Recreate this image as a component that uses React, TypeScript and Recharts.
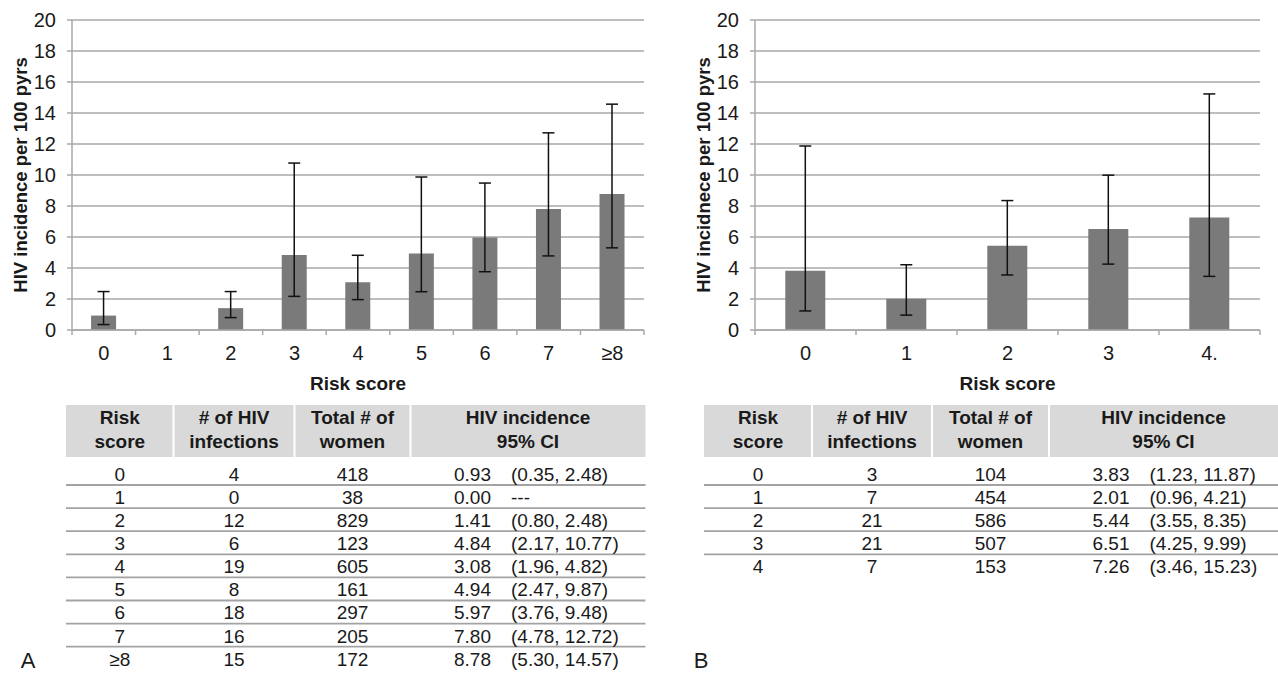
import React from 'react';
import { BarChart, Bar, XAxis, YAxis, CartesianGrid, ErrorBar } from 'recharts';

// ---------- Data ----------
const riskA = ['0', '1', '2', '3', '4', '5', '6', '7', '≥8'];
const incidenceA = [0.93, 0.0, 1.41, 4.84, 3.08, 4.94, 5.97, 7.8, 8.78];
const lowA: (number | null)[] = [0.35, null, 0.8, 2.17, 1.96, 2.47, 3.76, 4.78, 5.3];
const highA: (number | null)[] = [2.48, null, 2.48, 10.77, 4.82, 9.87, 9.48, 12.72, 14.57];
const infectionsA = [4, 0, 12, 6, 19, 8, 18, 16, 15];
const womenA = [418, 38, 829, 123, 605, 161, 297, 205, 172];

const axisCatsB = ['0', '1', '2', '3', '4.'];
const riskB = ['0', '1', '2', '3', '4'];
const incidenceB = [3.83, 2.01, 5.44, 6.51, 7.26];
const lowB = [1.23, 0.96, 3.55, 4.25, 3.46];
const highB = [11.87, 4.21, 8.35, 9.99, 15.23];
const infectionsB = [3, 7, 21, 21, 7];
const womenB = [104, 454, 586, 507, 153];

const yTicks = [0, 2, 4, 6, 8, 10, 12, 14, 16, 18, 20];
const headerLines = [
  ['Risk', 'score'],
  ['# of HIV', 'infections'],
  ['Total # of', 'women'],
  ['HIV incidence', '95% CI'],
];

// ---------- Styles ----------
const FONT = '"Liberation Sans", Arial, sans-serif';
const TEXT = '#1a1a1a';
const GRID = '#a9a9a9';
const BAR = '#7a7a7a';

const buildRows = (cats: string[], inc: number[], lo: (number | null)[], hi: (number | null)[]) =>
  cats.map((c, i) => ({
    cat: c,
    value: inc[i],
    err: lo[i] == null || hi[i] == null ? null : [inc[i] - (lo[i] as number), (hi[i] as number) - inc[i]],
  }));

const dataA = buildRows(riskA, incidenceA, lowA, highA);
const dataB = buildRows(axisCatsB, incidenceB, lowB, highB);

const makeTick = (count: number) => (props: any) => {
  const { x, y, payload, index } = props;
  const half = payload && payload.offset ? payload.offset : 0;
  return (
    <g>
      <line x1={x - half} x2={x - half} y1={y} y2={y + 5} stroke={GRID} strokeWidth={1.5} />
      {index === count - 1 && (
        <line x1={x + half} x2={x + half} y1={y} y2={y + 5} stroke={GRID} strokeWidth={1.5} />
      )}
      <text x={x} y={y + 30} textAnchor="middle" fontSize={20} fontFamily={FONT} fill={TEXT}>
        {payload.value}
      </text>
    </g>
  );
};

const makeYTitle = (text: string, dx: number) => (props: any) => {
  const vb = props.viewBox || { x: 0, y: 0, width: 0, height: 0 };
  const cx = vb.x + dx;
  const cy = vb.y + vb.height / 2;
  return (
    <text
      x={cx}
      y={cy}
      transform={`rotate(-90, ${cx}, ${cy})`}
      textAnchor="middle"
      fontSize={18.5}
      fontWeight="bold"
      fontFamily={FONT}
      fill={TEXT}
    >
      {text}
    </text>
  );
};

const xTitle = (props: any) => {
  const vb = props.viewBox || { x: 0, y: 0, width: 0, height: 0 };
  return (
    <text
      x={vb.x + vb.width / 2}
      y={vb.y + 59.5}
      textAnchor="middle"
      fontSize={19}
      fontWeight="bold"
      fontFamily={FONT}
      fill={TEXT}
    >
      Risk score
    </text>
  );
};

function Panel({
  data,
  count,
  width,
  yAxisWidth,
  rightMargin,
  yTitle,
  yTitleDx,
}: {
  data: any[];
  count: number;
  width: number;
  yAxisWidth: number;
  rightMargin: number;
  yTitle: string;
  yTitleDx: number;
}) {
  return (
    <BarChart
      width={width}
      height={400}
      data={data}
      margin={{ top: 20, right: rightMargin, bottom: 0, left: 0 }}
      barCategoryGap="30%"
    >
      <CartesianGrid vertical={false} stroke={GRID} strokeWidth={1.5} />
      <XAxis
        dataKey="cat"
        height={70}
        axisLine={{ stroke: GRID, strokeWidth: 1.5 }}
        tickLine={false}
        tickSize={0}
        tickMargin={0}
        interval={0}
        tick={makeTick(count)}
        label={xTitle}
      />
      <YAxis
        width={yAxisWidth}
        domain={[0, 20]}
        ticks={yTicks}
        interval={0}
        axisLine={{ stroke: GRID, strokeWidth: 1.5 }}
        tickLine={{ stroke: GRID, strokeWidth: 1.5 }}
        tickSize={5}
        tickMargin={11}
        tick={{ fontSize: 20, fontFamily: FONT, fill: TEXT }}
        label={makeYTitle(yTitle, yTitleDx)}
      />
      <Bar dataKey="value" fill={BAR} isAnimationActive={false}>
        <ErrorBar dataKey="err" direction="y" width={6} stroke="#111" strokeWidth={1.5} />
      </Bar>
    </BarChart>
  );
}

function DataTable({
  edges,
  risk,
  infections,
  women,
  inc,
  lo,
  hi,
}: {
  edges: number[];
  risk: string[];
  infections: number[];
  women: number[];
  inc: number[];
  lo: (number | null)[];
  hi: (number | null)[];
}) {
  const headTop = 405;
  const headBottom = 457;
  const firstLine = 485;
  const step = 23.1;
  const centers = edges.slice(0, -1).map((e, i) => (e + edges[i + 1]) / 2);
  const lastLeft = edges[3];
  return (
    <g fontFamily={FONT} fill={TEXT}>
      {edges.slice(0, -1).map((e, i) => (
        <rect
          key={'h' + i}
          x={e + (i === 0 ? 0 : 1)}
          y={headTop}
          width={edges[i + 1] - e - (i === 0 ? 1 : 2) + (i === edges.length - 2 ? 1 : 0)}
          height={headBottom - headTop}
          fill="#d9d9d9"
        />
      ))}
      {headerLines.map((ls, i) => (
        <g key={'ht' + i}>
          <text x={centers[i]} y={423.5} textAnchor="middle" fontSize={19} fontWeight="bold">
            {ls[0]}
          </text>
          <text x={centers[i]} y={447.5} textAnchor="middle" fontSize={19} fontWeight="bold">
            {ls[1]}
          </text>
        </g>
      ))}
      {risk.map((r, i) => {
        const lineY = firstLine + i * step;
        const base = lineY - 4.2;
        const ci = lo[i] == null || hi[i] == null ? '---' : `(${(lo[i] as number).toFixed(2)}, ${(hi[i] as number).toFixed(2)})`;
        return (
          <g key={'r' + i}>
            {i < risk.length - 1 && (
              <line x1={edges[0]} x2={edges[edges.length - 1]} y1={lineY} y2={lineY} stroke="#a3a3a3" strokeWidth={1.8} />
            )}
            <text x={centers[0]} y={base} textAnchor="middle" fontSize={19}>
              {r}
            </text>
            <text x={centers[1]} y={base} textAnchor="middle" fontSize={19}>
              {infections[i]}
            </text>
            <text x={centers[2]} y={base} textAnchor="middle" fontSize={19}>
              {women[i]}
            </text>
            <text x={lastLeft + 43.5} y={base} fontSize={19}>
              {inc[i].toFixed(2)}
            </text>
            <text x={lastLeft + 100.5} y={base} fontSize={19}>
              {ci}
            </text>
          </g>
        );
      })}
    </g>
  );
}

export default function App() {
  return (
    <div style={{ position: 'absolute', left: 0, top: 0, width: 1278, height: 673, background: '#fff', overflow: 'hidden' }}>
      <div style={{ position: 'absolute', left: 0, top: 0 }}>
        <Panel
          data={dataA}
          count={riskA.length}
          width={660}
          yAxisWidth={72}
          rightMargin={16}
          yTitle="HIV incidence per 100 pyrs"
          yTitleDx={26.5}
        />
      </div>
      <div style={{ position: 'absolute', left: 640, top: 0 }}>
        <Panel
          data={dataB}
          count={axisCatsB.length}
          width={640}
          yAxisWidth={115}
          rightMargin={20}
          yTitle="HIV incidnece per 100 pyrs"
          yTitleDx={69.5}
        />
      </div>
      <svg width={1278} height={673} style={{ position: 'absolute', left: 0, top: 0, pointerEvents: 'none' }}>
        <DataTable
          edges={[66, 173.5, 294.5, 410.5, 645.5]}
          risk={riskA}
          infections={infectionsA}
          women={womenA}
          inc={incidenceA}
          lo={lowA}
          hi={highA}
        />
        <DataTable
          edges={[704, 812, 932, 1049, 1278]}
          risk={riskB}
          infections={infectionsB}
          women={womenB}
          inc={incidenceB}
          lo={lowB}
          hi={highB}
        />
        <text x={28} y={668} textAnchor="middle" fontSize={22} fontFamily={FONT} fill={TEXT}>
          A
        </text>
        <text x={701} y={668} textAnchor="middle" fontSize={22} fontFamily={FONT} fill={TEXT}>
          B
        </text>
      </svg>
    </div>
  );
}
